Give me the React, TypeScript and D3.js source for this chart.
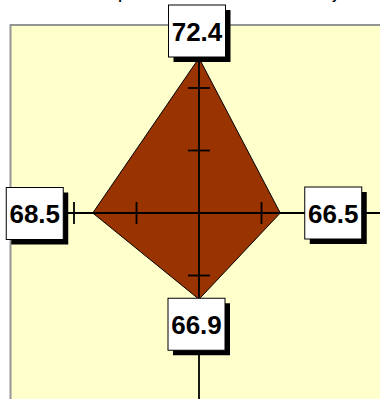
import React, { useEffect, useRef } from 'react';
import * as d3 from 'd3';

// chart values, clockwise from the top spoke
const categories = ['North', 'East', 'South', 'West'];
const values = [72.4, 66.5, 66.9, 68.5];
const tickValues = [60, 65, 70, 75];
const title = 'Temperature at Noon on Each Weekday';

const WIDTH = 380;
const HEIGHT = 399;

export default function App() {
  const ref = useRef<SVGSVGElement>(null);

  useEffect(() => {
    const svg = d3.select(ref.current);
    svg.selectAll('*').remove();

    const cx = 199;
    const cy = 213;
    const radius = 187.5;
    const n = categories.length;
    const font = 'Arial, "Liberation Sans", sans-serif';

    const r = d3.scaleLinear()
      .domain([tickValues[0], tickValues[tickValues.length - 1]])
      .range([0, radius]);
    const angle = (i: number) => (i * 2 * Math.PI) / n;

    // chart title, mostly cut off by the crop
    svg.append('text')
      .attr('x', 92)
      .attr('y', -1)
      .attr('font-family', font)
      .attr('font-weight', 'bold')
      .attr('font-size', 13.2)
      .attr('fill', '#000')
      .text(title);

    // plot area
    svg.append('rect')
      .attr('x', 10.5)
      .attr('y', 25)
      .attr('width', 420)
      .attr('height', 420)
      .attr('fill', '#FFFFCC')
      .attr('stroke', '#959595')
      .attr('stroke-width', 2);

    const g = svg.append('g').attr('transform', `translate(${cx},${cy})`);

    // data area
    const radar = d3.lineRadial<number>()
      .angle((_, i) => angle(i))
      .radius(d => r(d))
      .curve(d3.curveLinearClosed);

    g.append('path')
      .datum(values)
      .attr('d', radar)
      .attr('fill', '#993300')
      .attr('stroke', '#000')
      .attr('stroke-width', 1);

    // spokes with cross tick marks
    categories.forEach((_, i) => {
      const a = angle(i);
      const ux = Math.sin(a);
      const uy = -Math.cos(a);
      g.append('line')
        .attr('x1', 0)
        .attr('y1', 0)
        .attr('x2', ux * radius)
        .attr('y2', uy * radius)
        .attr('stroke', '#000')
        .attr('stroke-width', 1.8);

      tickValues.slice(1).forEach(t => {
        const d = r(t);
        g.append('line')
          .attr('x1', ux * d - uy * 11)
          .attr('y1', uy * d + ux * 11)
          .attr('x2', ux * d + uy * 11)
          .attr('y2', uy * d - ux * 11)
          .attr('stroke', '#000')
          .attr('stroke-width', 1.8);
      });
    });

    // data labels: boxed with a drop shadow
    const boxW = 57;
    const boxH = 52;
    const offsets = [[-2, -27], [53, 0], [-2.5, 25], [-58, 0.5]];

    values.forEach((v, i) => {
      const a = angle(i);
      const px = Math.sin(a) * r(v);
      const py = -Math.cos(a) * r(v);
      const bx = px + offsets[i][0];
      const by = py + offsets[i][1];
      const lab = g.append('g').attr('transform', `translate(${bx},${by})`);
      lab.append('rect')
        .attr('x', -boxW / 2 + 5)
        .attr('y', -boxH / 2 + 5)
        .attr('width', boxW)
        .attr('height', boxH)
        .attr('fill', '#000');
      lab.append('rect')
        .attr('x', -boxW / 2)
        .attr('y', -boxH / 2)
        .attr('width', boxW)
        .attr('height', boxH)
        .attr('fill', '#fff')
        .attr('stroke', '#000')
        .attr('stroke-width', 1);
      lab.append('text')
        .attr('x', 0)
        .attr('y', 9.5)
        .attr('text-anchor', 'middle')
        .attr('font-family', font)
        .attr('font-weight', 'bold')
        .attr('font-size', 26)
        .attr('fill', '#000')
        .text(d3.format('.1f')(v));
    });
  }, []);

  return (
    <div style={{ position: 'absolute', left: 0, top: 0 }}>
      <svg ref={ref} width={WIDTH} height={HEIGHT} style={{ display: 'block', background: '#fff' }} />
    </div>
  );
}
